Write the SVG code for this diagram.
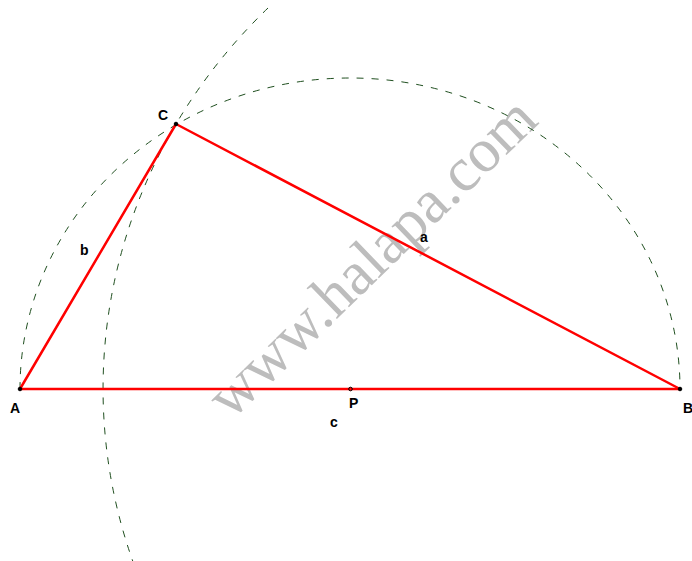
<svg xmlns="http://www.w3.org/2000/svg" width="692" height="561" viewBox="0 0 692 561">
<style>
.arc{fill:none;stroke:#1f4f1f;stroke-width:1;stroke-dasharray:7,8}
.side{stroke:#ff0000;stroke-width:2.5;stroke-linecap:round}
.lbl{font-family:"Liberation Sans",Arial,sans-serif;font-size:14px;font-weight:bold;fill:#000}
.pt{fill:#000;stroke:#000;stroke-width:1}
.wm{font-family:"Liberation Serif","Times New Roman",serif;font-size:62px;fill:#bdbdbd}
</style>
<rect width="692" height="561" fill="#fff"/>
<text class="wm" transform="translate(231,421) rotate(-44)">www.halapa.com</text>
<g id="connectors">
<path class="arc" d="M20,389 A330,311 0 0 1 680,389"/>
<path class="arc" d="M268,8 A577,544 0 0 0 136,570"/>
<line class="side" x1="20" y1="389" x2="680" y2="389"/>
<line class="side" x1="20" y1="389" x2="176" y2="124"/>
<line class="side" x1="176" y1="124" x2="680" y2="389"/>
</g>
<g id="A"><circle class="pt" cx="20" cy="389" r="1.8"/><text class="lbl" x="10" y="413">A</text></g>
<g id="B"><circle class="pt" cx="680" cy="389" r="1.8"/><text class="lbl" x="683" y="413">B</text></g>
<g id="C"><circle class="pt" cx="176" cy="124" r="1.8"/><text class="lbl" x="158" y="120">C</text></g>
<g id="P"><circle cx="350.5" cy="389" r="1.8" fill="#ff0000" stroke="#000" stroke-width="1"/><text class="lbl" x="349" y="408">P</text></g>
<g id="labels">
<text class="lbl" x="330" y="427">c</text>
<text class="lbl" x="80" y="255">b</text>
<text class="lbl" x="420" y="242">a</text>
</g>
</svg>
